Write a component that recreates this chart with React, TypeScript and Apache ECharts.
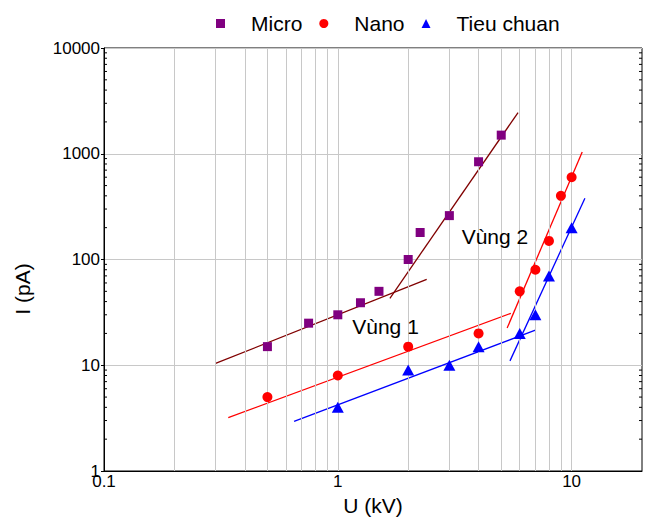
import React, { useEffect, useRef } from 'react';
import * as echarts from 'echarts';

// Measured points: U (kV) and I (pA)
const microU = [0.5, 0.75, 1, 1.25, 1.5, 2, 2.25, 3, 4, 5];
const microI = [15, 25, 30, 39, 50, 100, 180, 260, 840, 1500];
const nanoU = [0.5, 1, 2, 4, 6, 7, 8, 9, 10];
const nanoI = [5, 8, 15, 20, 50, 80, 150, 400, 600];
const tieuU = [1, 2, 3, 4, 6, 7, 8, 10];
const tieuI = [4, 9, 10, 15, 20, 30, 70, 200];

// Fit lines (end points, U and I)
const microFit1U = [0.3, 2.4];
const microFit1I = [10.4, 65];
const microFit2U = [1.67, 5.9];
const microFit2I = [43, 2450];
const nanoFit1U = [0.34, 5.5];
const nanoFit1I = [3.2, 31];
const nanoFit2U = [5.3, 11.1];
const nanoFit2I = [22.5, 1040];
const tieuFit1U = [0.65, 7.0];
const tieuFit1I = [2.95, 21.5];
const tieuFit2U = [5.45, 11.4];
const tieuFit2I = [11, 380];

// Region annotations
const noteTexts = ['Vùng 1', 'Vùng 2'];
const noteU = [1.6, 4.7];
const noteI = [23.5, 164];

// Axes
const xTickLabels = ['0.1', '1', '10'];
const yTickLabels = ['1', '10', '100', '1000', '10000'];
const xGridValues = [0.2, 0.3, 0.4, 0.5, 0.6, 0.7, 0.8, 0.9, 1, 2, 3, 4, 5, 6, 7, 8, 9, 10];
const yMinorTickValues = [
  2, 3, 4, 5, 6, 7, 8, 9,
  20, 30, 40, 50, 60, 70, 80, 90,
  200, 300, 400, 500, 600, 700, 800, 900,
  2000, 3000, 4000, 5000, 6000, 7000, 8000, 9000,
];

const FONT = 'Liberation Sans, Arial, sans-serif';

const zip = (a: number[], b: number[]) => a.map((v, i) => [v, b[i]]);
const fmt = (v: number) => String(parseFloat(Number(v).toPrecision(6)));

export default function App() {
  const ref = useRef<HTMLDivElement>(null);
  useEffect(() => {
    if (!ref.current) return;
    const chart = echarts.init(ref.current, undefined, { renderer: 'svg' });
    const fitLine = (name: string, u: number[], i: number[], color: string) => ({
      type: 'line',
      name,
      data: zip(u, i),
      symbol: 'none',
      showSymbol: false,
      silent: true,
      lineStyle: { color, width: 1.3 },
      z: 3,
    });
    const option: any = {
      animation: false,
      backgroundColor: '#ffffff',
      textStyle: { fontFamily: FONT },
      grid: {
        left: 104,
        right: 4,
        top: 48,
        bottom: 47,
        show: true,
        borderColor: '#000',
        borderWidth: 1,
        backgroundColor: 'transparent',
      },
      legend: {
        data: ['Micro', 'Nano', 'Tieu chuan'],
        left: 211,
        top: 8,
        itemWidth: 9,
        itemHeight: 9,
        itemGap: 17,
        selectedMode: false,
        textStyle: { fontSize: 21, color: '#000', fontFamily: FONT, padding: [0, 0, 0, 21] },
      },
      xAxis: {
        type: 'log',
        logBase: 10,
        min: 0.1,
        max: 20,
        name: 'U (kV)',
        nameLocation: 'middle',
        nameGap: 24,
        nameTextStyle: { fontSize: 21, color: '#000', fontFamily: FONT },
        axisLine: { show: true, lineStyle: { color: '#000', width: 1 } },
        axisTick: { show: false },
        splitLine: { show: false },
        axisLabel: {
          fontSize: 17,
          color: '#000',
          margin: 2,
          fontFamily: FONT,
          showMaxLabel: false,
          formatter: (v: number) => {
            const s = fmt(v);
            return xTickLabels.includes(s) ? s : '';
          },
        },
      },
      yAxis: {
        type: 'log',
        logBase: 10,
        min: 1,
        max: 10000,
        axisLine: { show: true, lineStyle: { color: '#000', width: 1 } },
        axisTick: { show: true, length: 3, lineStyle: { color: '#000' } },
        splitLine: { show: true, lineStyle: { color: '#c8c8c8', width: 1 } },
        axisLabel: {
          fontSize: 17,
          color: '#000',
          margin: 4,
          fontFamily: FONT,
          formatter: (v: number) => {
            const s = fmt(v);
            return yTickLabels.includes(s) ? s : '';
          },
        },
      },
      graphic: [
        {
          type: 'text',
          x: 22,
          y: 289,
          rotation: Math.PI / 2,
          style: {
            text: 'I (pA)',
            fontSize: 21,
            fontFamily: FONT,
            fill: '#000',
            align: 'center',
            verticalAlign: 'middle',
          },
        },
      ],
      series: [
        {
          type: 'line',
          name: 'grid',
          data: [],
          silent: true,
          z: 0,
          markLine: {
            silent: true,
            symbol: ['none', 'none'],
            label: { show: false },
            lineStyle: { color: '#c8c8c8', type: 'solid', width: 1 },
            data: xGridValues.map((v) => ({ xAxis: v })),
          },
        },
        {
          type: 'custom',
          name: 'ticks',
          silent: true,
          z: 4,
          data: yMinorTickValues.map((v) => [0.1, v]),
          encode: { x: 0, y: 1 },
          renderItem: (params: any, api: any) => {
            const v = api.value(1);
            const l = api.coord([0.1, v]);
            const r = api.coord([20, v]);
            return {
              type: 'group',
              children: [
                { type: 'line', shape: { x1: l[0], y1: l[1], x2: l[0] + 3, y2: l[1] }, style: { stroke: '#000', lineWidth: 1 } },
                { type: 'line', shape: { x1: r[0] - 3, y1: r[1], x2: r[0], y2: r[1] }, style: { stroke: '#000', lineWidth: 1 } },
              ],
            };
          },
        },
        fitLine('microFit1', microFit1U, microFit1I, '#800000'),
        fitLine('microFit2', microFit2U, microFit2I, '#800000'),
        fitLine('nanoFit1', nanoFit1U, nanoFit1I, '#ff0000'),
        fitLine('nanoFit2', nanoFit2U, nanoFit2I, '#ff0000'),
        fitLine('tieuFit1', tieuFit1U, tieuFit1I, '#0000ff'),
        fitLine('tieuFit2', tieuFit2U, tieuFit2I, '#0000ff'),
        {
          type: 'scatter',
          name: 'Micro',
          data: zip(microU, microI),
          symbol: 'rect',
          symbolSize: 9,
          itemStyle: { color: '#800080', opacity: 1 },
          z: 5,
        },
        {
          type: 'scatter',
          name: 'Nano',
          data: zip(nanoU, nanoI),
          symbol: 'circle',
          symbolSize: 10,
          itemStyle: { color: '#ff0000', opacity: 1 },
          z: 5,
        },
        {
          type: 'scatter',
          name: 'Tieu chuan',
          data: zip(tieuU, tieuI),
          symbol: 'triangle',
          symbolSize: [12, 11],
          itemStyle: { color: '#0000ff', opacity: 1 },
          z: 5,
        },
        {
          type: 'scatter',
          name: 'notes',
          silent: true,
          symbolSize: 0,
          itemStyle: { opacity: 1 },
          data: noteTexts.map((t, i) => ({ name: t, value: [noteU[i], noteI[i]] })),
          label: {
            show: true,
            position: 'inside',
            formatter: (p: any) => p.name,
            fontSize: 21,
            color: '#000',
            fontFamily: FONT,
          },
          z: 6,
        },
      ],
    };
    chart.setOption(option);
    return () => chart.dispose();
  }, []);
  return <div ref={ref} style={{ width: 646, height: 521, position: 'absolute', left: 0, top: 0 }} />;
}
